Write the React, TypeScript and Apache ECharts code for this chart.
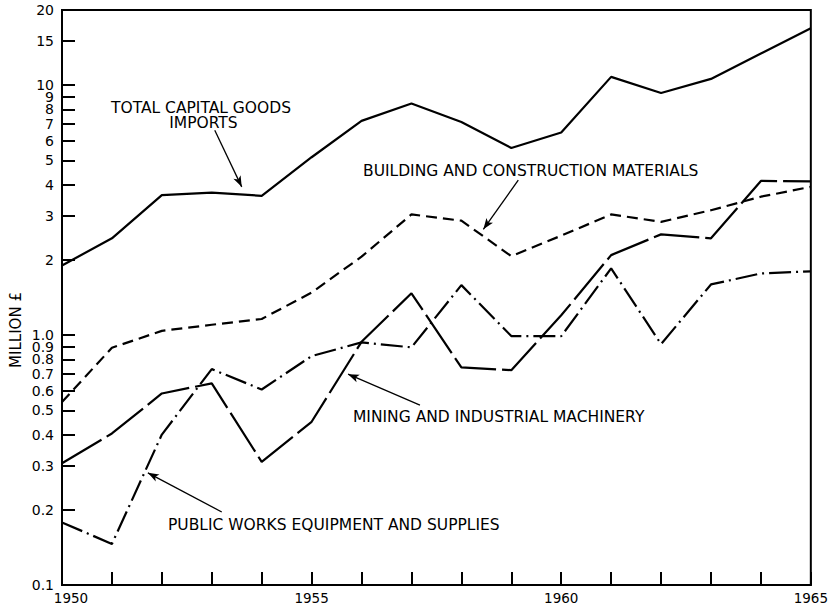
import React, { useEffect, useRef } from "react";
import * as echarts from "echarts";

const years = [1950, 1951, 1952, 1953, 1954, 1955, 1956, 1957, 1958, 1959, 1960, 1961, 1962, 1963, 1964, 1965];
const totalCapitalGoods = [1.9, 2.44, 3.63, 3.72, 3.61, 5.15, 7.2, 8.45, 7.13, 5.61, 6.47, 10.8, 9.31, 10.6, 13.4, 16.9];
const buildingMaterials = [0.54, 0.89, 1.04, 1.1, 1.16, 1.48, 2.06, 3.04, 2.87, 2.07, 2.5, 3.04, 2.84, 3.16, 3.58, 3.92];
const miningMachinery = [0.307, 0.404, 0.584, 0.641, 0.311, 0.45, 0.94, 1.47, 0.743, 0.724, 1.2, 2.09, 2.53, 2.44, 4.14, 4.12];
const publicWorks = [0.178, 0.146, 0.4, 0.731, 0.606, 0.824, 0.935, 0.893, 1.585, 0.991, 0.99, 1.85, 0.92, 1.595, 1.765, 1.8];

const yTickValues = [0.1, 0.2, 0.3, 0.4, 0.5, 0.6, 0.7, 0.8, 0.9, 1, 2, 3, 4, 5, 6, 7, 8, 9, 10, 15, 20];
const yTickLabels = ["0.1", "0.2", "0.3", "0.4", "0.5", "0.6", "0.7", "0.8", "0.9", "1.0", "2", "3", "4", "5", "6", "7", "8", "9", "10", "15", "20"];
const xLabelYears = [1950, 1955, 1960, 1965];

// arrow annotations: [fromYear, fromValue, toYear, toValue]
const arrowTotal = [1953.06, 6.6, 1953.6, 3.92];
const arrowBuilding = [1959.14, 4.17, 1958.44, 2.65];
const arrowMining = [1957.17, 0.525, 1955.73, 0.698];
const arrowPublic = [1953.2, 0.196, 1951.72, 0.281];

const FONT = "DejaVu Sans";

function arrowLine(a: number[]) {
  return {
    silent: true,
    symbol: ["none", "arrow"],
    symbolSize: [6, 11],
    label: { show: false },
    lineStyle: { color: "#000", width: 1.3, type: "solid" },
    data: [[{ coord: [a[0], a[1]] }, { coord: [a[2], a[3]] }]],
  };
}

function pairs(vals: number[]) {
  return years.map((y, i) => [y, vals[i]]);
}

export default function App() {
  const ref = useRef<HTMLDivElement>(null);
  useEffect(() => {
    if (!ref.current) return;
    const chart = echarts.init(ref.current, null, { renderer: "svg" });
    const lineBase = { type: "line", symbol: "none", silent: true };
    const annot = (x: number, y: number, text: string) => ({
      type: "text",
      x,
      y,
      silent: true,
      style: { text, fontSize: 15.5, lineHeight: 15, fontFamily: FONT, fill: "#000", align: "left", verticalAlign: "middle" },
    });
    chart.setOption({
      animation: false,
      backgroundColor: "#fff",
      grid: { left: 62, right: 20, top: 10, bottom: 24, show: true, borderColor: "#000", borderWidth: 2 },
      xAxis: {
        type: "value",
        min: 1950,
        max: 1965,
        interval: 1,
        axisLine: { show: true, lineStyle: { color: "#000", width: 2 } },
        axisTick: { show: true, inside: true, length: 13, lineStyle: { color: "#000", width: 2 } },
        splitLine: { show: false },
        axisLabel: {
          color: "#000",
          fontSize: 13.5,
          fontFamily: FONT,
          margin: 6,
          formatter: (v: number) => {
            if (!xLabelYears.includes(v)) return "";
            return v === 1950 ? "{a|" + v + "}" : String(v);
          },
          rich: { a: { fontSize: 13.5, fontFamily: FONT, color: "#000", padding: [0, 0, 0, 18] } },
        },
      },
      yAxis: {
        type: "log",
        logBase: 10,
        min: 0.1,
        max: 20,
        axisLine: { show: true, lineStyle: { color: "#000", width: 2 } },
        axisTick: { show: true, inside: true, length: 13, customValues: yTickValues, lineStyle: { color: "#000", width: 2 } },
        minorTick: { show: false },
        splitLine: { show: false },
        axisLabel: {
          customValues: yTickValues,
          color: "#000",
          fontSize: 14,
          lineHeight: 11,
          fontFamily: FONT,
          margin: 8,
          formatter: (v: number) => {
            let best = 0;
            for (let i = 0; i < yTickValues.length; i++) {
              if (Math.abs(yTickValues[i] - v) < Math.abs(yTickValues[best] - v)) best = i;
            }
            return yTickLabels[best];
          },
        },
      },
      series: [
        { ...lineBase, name: "Total capital goods imports", data: pairs(totalCapitalGoods), lineStyle: { color: "#000", width: 2.2, type: "solid" }, markLine: arrowLine(arrowTotal) },
        { ...lineBase, name: "Building and construction materials", data: pairs(buildingMaterials), lineStyle: { color: "#000", width: 2.2, type: [11, 6] }, markLine: arrowLine(arrowBuilding) },
        { ...lineBase, name: "Mining and industrial machinery", data: pairs(miningMachinery), lineStyle: { color: "#000", width: 2.2, type: [46, 6] }, markLine: arrowLine(arrowMining) },
        { ...lineBase, name: "Public works equipment and supplies", data: pairs(publicWorks), lineStyle: { color: "#000", width: 2.2, type: [22, 5, 2, 5] }, markLine: arrowLine(arrowPublic) },
      ],
      graphic: [
        {
          type: "text",
          x: 201,
          y: 115,
          silent: true,
          style: { text: "TOTAL CAPITAL GOODS\n IMPORTS", fontSize: 15.5, lineHeight: 15, fontFamily: FONT, fill: "#000", align: "center", verticalAlign: "middle" },
        },
        annot(363, 171, "BUILDING AND CONSTRUCTION MATERIALS"),
        annot(353, 417, "MINING AND INDUSTRIAL MACHINERY"),
        annot(168, 525, "PUBLIC WORKS EQUIPMENT AND SUPPLIES"),
        { type: "text", x: 16, y: 330, rotation: Math.PI / 2, silent: true, style: { text: "MILLION £", fontSize: 15, fontFamily: FONT, fill: "#000", align: "center", verticalAlign: "middle" } },
      ],
    });
    return () => chart.dispose();
  }, []);
  return <div ref={ref} style={{ width: 831, height: 609, position: "absolute", left: 0, top: 0 }} />;
}
